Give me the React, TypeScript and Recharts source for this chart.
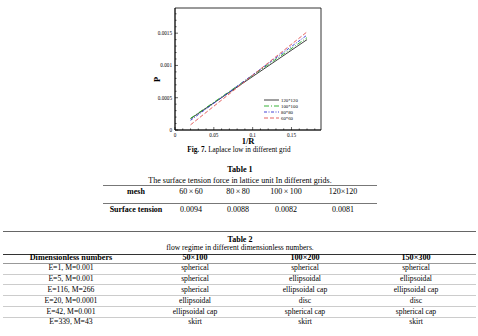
import React from 'react';
import { LineChart, Line, XAxis, YAxis, Legend, ReferenceArea, Label } from 'recharts';

// ---- chart data ----
const invR = [0.02, 0.17];
const p120 = [0.000175, 0.0014];
const p100 = [0.00018, 0.00143];
const p80 = [0.00015, 0.00147];
const p60 = [0.00008, 0.00152];
const seriesNames = ['120*120', '100*100', '80*80', '60*60'];
const seriesKeys = ['g120', 'g100', 'g80', 'g60'];
const seriesColors = ['#2a2a2a', '#22aa22', '#3030d0', '#e05050'];
const seriesDash = ['', '5 2 1 2', '3 1.5 1 1.5', '4 2'];

const xTicks = [0, 0.01, 0.02, 0.03, 0.04, 0.05, 0.06, 0.07, 0.08, 0.09, 0.1, 0.11, 0.12, 0.13, 0.14, 0.15, 0.16, 0.17, 0.18];
const xMajor = [0, 0.05, 0.1, 0.15];
const xMajorLabels = ['0', '0.05', '0.1', '0.15'];
const yTicks = [0, 0.0001, 0.0002, 0.0003, 0.0004, 0.0005, 0.0006, 0.0007, 0.0008, 0.0009, 0.001, 0.0011, 0.0012, 0.0013, 0.0014, 0.0015, 0.0016, 0.0017, 0.0018];
const yMajor = [0, 0.0005, 0.001, 0.0015];
const yMajorLabels = ['0', '0.0005', '0.001', '0.0015'];

// ---- table data ----
const t1Header = ['mesh', '60\u2009×\u200960', '80\u2009×\u200980', '100\u2009×\u2009100', '120×120'];
const t1Row = ['Surface tension', '0.0094', '0.0088', '0.0082', '0.0081'];
const t2Header = ['Dimensionless numbers', '50×100', '100×200', '150×300'];
const t2Rows = [
  ['E=1, M=0.001', 'spherical', 'spherical', 'spherical'],
  ['E=5, M=0.001', 'spherical', 'ellipsoidal', 'ellipsoidal'],
  ['E=116, M=266', 'spherical', 'ellipsoidal cap', 'ellipsoidal cap'],
  ['E=20, M=0.0001', 'ellipsoidal', 'disc', 'disc'],
  ['E=42, M=0.001', 'ellipsoidal cap', 'spherical cap', 'spherical cap'],
  ['E=339, M=43', 'skirt', 'skirt', 'skirt'],
];

const data = invR.map((x, i) => ({ x, g120: p120[i], g100: p100[i], g80: p80[i], g60: p60[i] }));

const findIdx = (arr: number[], v: number) => arr.findIndex((m) => Math.abs(m - v) < 1e-9);

const XTick = (props: any) => {
  const { x, y, payload } = props;
  const i = findIdx(xMajor, payload.value);
  const major = i >= 0;
  return (
    <g>
      <line x1={x} x2={x} y1={y} y2={y - (major ? 3 : 1.6)} stroke="#000" strokeWidth={0.6} />
      {major && (
        <text x={x} y={y + 6.5} textAnchor="middle" fontSize={5.2} fill="#000" fontFamily="Liberation Serif, serif">
          {xMajorLabels[i]}
        </text>
      )}
    </g>
  );
};

const YTick = (props: any) => {
  const { x, y, payload } = props;
  const i = findIdx(yMajor, payload.value);
  const major = i >= 0;
  return (
    <g>
      <line x1={x} x2={x + (major ? 3 : 1.6)} y1={y} y2={y} stroke="#000" strokeWidth={0.6} />
      {major && (
        <text x={x - 3} y={y + 1.8} textAnchor="end" fontSize={5.2} fill="#000" fontFamily="Liberation Serif, serif">
          {yMajorLabels[i]}
        </text>
      )}
    </g>
  );
};

const LegendContent = () => (
  <svg width={50} height={26} style={{ display: 'block' }}>
    {seriesNames.map((n, i) => (
      <g key={n}>
        <line x1={2} x2={17} y1={3 + i * 6} y2={3 + i * 6} stroke={seriesColors[i]} strokeWidth={0.9} strokeDasharray={seriesDash[i] || undefined} />
        <text x={19} y={4.7 + i * 6} fontSize={4.8} fill="#000" fontFamily="Liberation Serif, serif">{n}</text>
      </g>
    ))}
  </svg>
);

const Txt = ({ cx, cy, w, children, size, bold }: any) => (
  <div style={{ position: 'absolute', left: cx - w / 2, width: w, top: cy - 6, height: 12, lineHeight: '12px', textAlign: 'center', fontSize: size, fontWeight: bold ? 'bold' : 'normal', whiteSpace: 'nowrap' }}>
    {children}
  </div>
);

const Rule = ({ x1, x2, y, color, h }: any) => (
  <div style={{ position: 'absolute', left: x1, width: x2 - x1, top: y, height: h || 1, background: color }} />
);

const t1Centers = [136, 191, 238, 286, 343];
const t2Centers = [71, 195, 305, 416];
const t2RowY = [268.3, 279.2, 290, 300.8, 311.6, 322.4];

export default function App() {
  return (
    <div style={{ position: 'absolute', left: 0, top: 0, width: 478, height: 336, background: '#fff', fontFamily: '"Liberation Serif", "Times New Roman", serif', color: '#000', overflow: 'hidden' }}>
      <div style={{ position: 'absolute', left: 0, top: 0 }}>
        <LineChart width={478} height={150} data={data} margin={{ top: 8, right: 157, bottom: 0, left: 145 }}>
          <XAxis dataKey="x" type="number" domain={[0, 0.188]} ticks={xTicks} interval={0} tick={XTick} tickLine={false} tickSize={0} tickMargin={0} height={20} axisLine={{ stroke: '#000', strokeWidth: 0.8 }}>
            <Label value="1/R" position="insideBottom" offset={6} fontSize={8.5} fontWeight="bold" fill="#000" fontFamily="Liberation Serif, serif" />
          </XAxis>
          <YAxis type="number" domain={[0, 0.00189]} ticks={yTicks} interval={0} tick={YTick} tickLine={false} tickSize={0} tickMargin={0} width={30} axisLine={{ stroke: '#000', strokeWidth: 0.8 }}>
            <Label value="P" position="insideLeft" angle={-90} offset={12} dy={13} fontSize={8.5} fontWeight="bold" fill="#000" fontFamily="Liberation Serif, serif" />
          </YAxis>
          <ReferenceArea x1={0} x2={0.188} y1={0} y2={0.00189} fill="none" stroke="#000" strokeWidth={0.8} />
          {seriesKeys.map((k, i) => (
            <Line key={k} dataKey={k} name={seriesNames[i]} stroke={seriesColors[i]} strokeWidth={0.9} strokeDasharray={seriesDash[i] || undefined} dot={false} isAnimationActive={false} />
          ))}
          <Legend layout="horizontal" align="center" verticalAlign="middle" content={LegendContent} wrapperStyle={{ position: 'absolute', left: 262, top: 97, width: 50, height: 26, margin: 0 }} />
        </LineChart>
      </div>

      <div style={{ position: 'absolute', left: 0, width: 478, top: 143.5, lineHeight: '12px', textAlign: 'center', fontSize: 7.2 }}>
        <b>Fig. 7.</b> Laplace low in different grid
      </div>

      {/* Table 1 */}
      <Txt cx={240} cy={170} w={100} size={8.2} bold>Table 1</Txt>
      <Txt cx={240} cy={180.5} w={300} size={8}>The surface tension force in lattice unit In different grids.</Txt>
      <Rule x1={103} x2={377} y={185} color="#777" />
      {t1Header.map((h, i) => (
        <Txt key={h} cx={t1Centers[i]} cy={192.3} w={80} size={8} bold={i === 0}>{h}</Txt>
      ))}
      <Rule x1={103} x2={377} y={203} color="#777" />
      {t1Row.map((h, i) => (
        <Txt key={h + i} cx={t1Centers[i]} cy={210} w={80} size={8} bold={i === 0}>{h}</Txt>
      ))}

      {/* Table 2 */}
      <Rule x1={3} x2={476} y={230.5} color="#666" />
      <Txt cx={240} cy={239.7} w={100} size={8} bold>Table 2</Txt>
      <Txt cx={240} cy={248} w={300} size={7.6}>flow regime in different dimensionless numbers.</Txt>
      <Rule x1={3} x2={476} y={253.5} color="#333" />
      {t2Header.map((h, i) => (
        <Txt key={h} cx={t2Centers[i]} cy={258.3} w={120} size={8.2} bold>{h}</Txt>
      ))}
      {t2Rows.map((row, r) => (
        <React.Fragment key={r}>
          <Rule x1={3} x2={476} y={t2RowY[r] - 5.6} color={r === 0 ? '#999' : '#ccc'} />
          {row.map((c, i) => (
            <Txt key={i} cx={t2Centers[i]} cy={t2RowY[r]} w={120} size={7.7}>{c}</Txt>
          ))}
        </React.Fragment>
      ))}
    </div>
  );
}
